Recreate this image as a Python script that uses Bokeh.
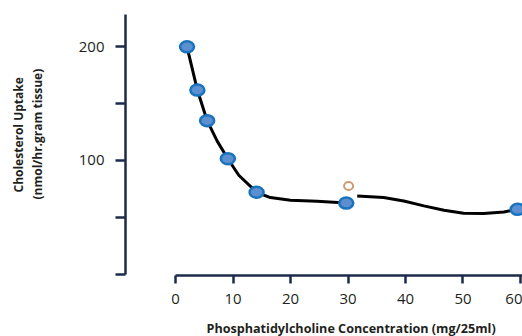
from bokeh.plotting import figure
from bokeh.models import Range1d, FixedTicker, Title
from bokeh.embed import file_html
from bokeh.resources import INLINE

# ---- data ----
conc = [2.0, 3.8, 5.5, 9.1, 14.1, 29.7, 59.5]
uptake = [200, 162, 135, 101.5, 72, 62.5, 57]
open_conc = [30.1]
open_uptake = [77.5]

fit1_x = [2.0, 3.8, 5.5, 7.25, 9.1, 11.0, 14.1, 16.5, 20.0, 24.6, 29.7]
fit1_y = [200, 162, 135, 117, 101.5, 87, 72, 67.3, 64.9, 64.0, 62.5]
fit2_x = [31.6, 36.2, 39.7, 43.2, 46.7, 50.1, 53.6, 57.1, 59.5]
fit2_y = [68.7, 67.3, 64.3, 60.0, 56.1, 53.5, 53.2, 54.6, 57.0]

x_ticks = [0, 10, 20, 30, 40, 50, 60]
y_ticks = [0, 50, 100, 150, 200]
y_tick_labels = {0: "", 50: "", 100: "100", 150: "", 200: "200"}
y_title = ["Cholesterol Uptake", "(nmol/hr.gram tissue)"]
x_title = "Phosphatidylcholine Concentration (mg/25ml)"

AXIS = "#1c2b4a"
FONT = "Open Sans"
TXT = "#231f20"

p = figure(width=522, height=336, output_backend="svg", toolbar_location=None,
           x_range=Range1d(-8.7, 60.35), y_range=Range1d(-1.3, 228.5),
           min_border_left=125, min_border_right=0, min_border_top=14,
           min_border_bottom=60)
p.outline_line_color = None
p.grid.visible = False

for ax in (p.xaxis[0], p.yaxis[0]):
    ax.axis_line_color = AXIS
    ax.axis_line_width = 2.5
    ax.major_tick_line_color = AXIS
    ax.major_tick_line_width = 2.5
    ax.minor_tick_line_color = None
    ax.major_tick_in = 0
    ax.major_label_text_font = FONT
    ax.major_label_text_font_size = "15px"
    ax.major_label_text_color = TXT

xa = p.xaxis[0]
xa.ticker = FixedTicker(ticks=x_ticks)
xa.bounds = (0, 60.35)
xa.major_tick_out = 8
xa.major_label_standoff = 10
xa.axis_label = " "
xa.axis_label_text_font_size = "1px"
xa.axis_label_standoff = 7

ya = p.yaxis[0]
ya.ticker = FixedTicker(ticks=y_ticks)
ya.major_label_overrides = y_tick_labels
ya.bounds = (0, 228.5)
ya.major_tick_out = 10
ya.major_label_standoff = 11
ya.axis_label = " "
ya.axis_label_text_font_size = "12px"
ya.axis_label_standoff = 13

# y-axis title: inner line first (closest to the axis), then outer line
for t, off in ((y_title[1], 76), (y_title[0], 83)):
    p.add_layout(Title(text=t, align="left", offset=off, standoff=0,
                       text_font=FONT, text_font_style="bold",
                       text_font_size="12px", text_color=TXT), "left")

p.add_layout(Title(text=x_title, align="left", offset=81, standoff=0,
                   text_font=FONT, text_font_style="bold",
                   text_font_size="12.6px", text_color=TXT), "below")

p.line(fit1_x, fit1_y, line_color="black", line_width=3)
p.line(fit2_x, fit2_y, line_color="black", line_width=3)

p.ellipse(conc, uptake, width=14, height=11, width_units="screen",
          height_units="screen", fill_color="#5b8fd0", line_color="#1a73bd",
          line_width=2.5)
p.ellipse(open_conc, open_uptake, width=9, height=8, width_units="screen",
          height_units="screen", fill_color=None, line_color="#d09a70",
          line_width=2)

open("out.html", "w").write(file_html(p, INLINE))
